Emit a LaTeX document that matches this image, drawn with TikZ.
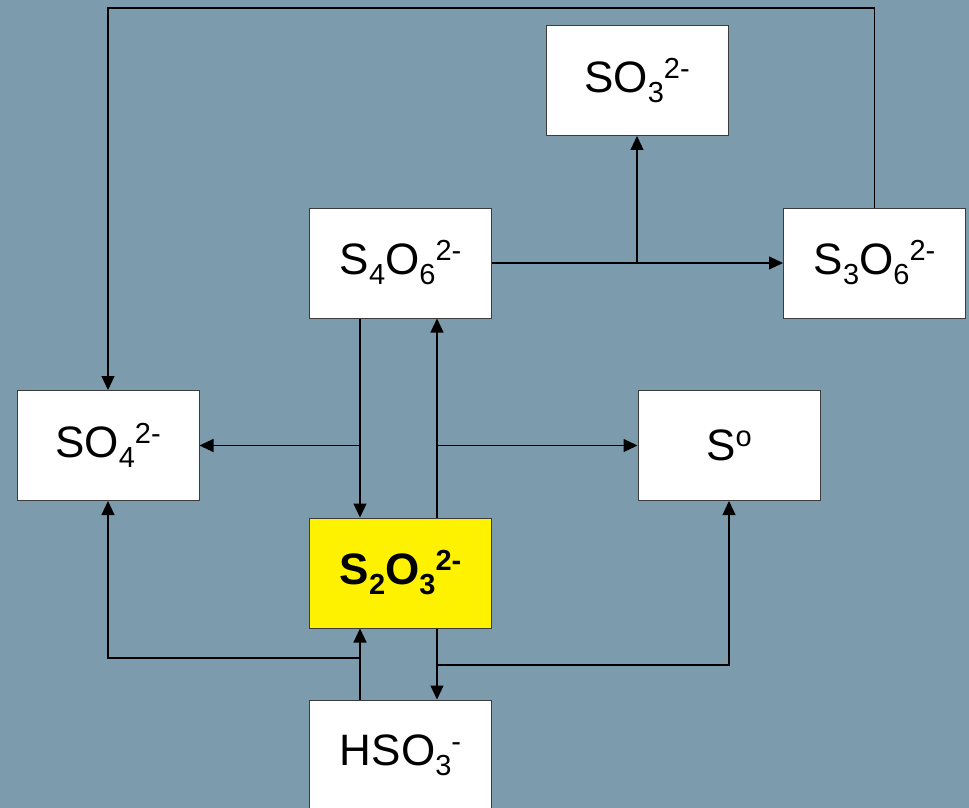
\documentclass[tikz,border=0pt]{standalone}
\usepackage{fontspec}
\setmainfont{Liberation Sans}
\usetikzlibrary{arrows.meta}

\definecolor{bgslate}{RGB}{124,155,172}
\definecolor{boxline}{RGB}{60,60,60}

% sub- and superscripts of the ion formulas
\newcommand{\ionsub}[1]{\raisebox{-5pt}{\fontsize{14.5}{15}\selectfont #1}}
\newcommand{\ionsup}[1]{\raisebox{7pt}{\fontsize{14.5}{15}\selectfont #1}}

\tikzset{
    ion/.style={draw=boxline, line width=0.5pt, fill=white, minimum width=91pt, minimum height=55pt,
        inner sep=0pt, font=\fontsize{22}{26}\selectfont},
    link/.style={-{Triangle[length=7pt,width=6.5pt]}, line width=0.55pt}
}

\begin{document}
\begin{tikzpicture}[x=0.5pt, y=-0.5pt]
    % background
    \fill[bgslate] (0,0) rectangle (969,808);
    \useasboundingbox (0,0) rectangle (969,808);
    % ions
    \node[ion] (so3) at (637,80.5) {SO\ionsub{3}\ionsup{2-}};
    \node[ion] (s4o6) at (400.5,263) {S\ionsub{4}O\ionsub{6}\ionsup{2-}};
    \node[ion] (s3o6) at (874.5,263) {S\ionsub{3}O\ionsub{6}\ionsup{2-}};
    \node[ion] (so4) at (108,445.5) {SO\ionsub{4}\ionsup{2-}};
    \node[ion] (s0) at (729,445.5) {S\ionsup{o}};
    \node[ion, fill=yellow, font=\fontsize{22}{26}\selectfont\bfseries] (s2o3) at (400.5,573)
        {S\ionsub{2}O\ionsub{3}\ionsup{2-}};
    \node[ion] (hso3) at (400.5,755) {HSO\ionsub{3}\ionsup{-}};
    % helper coordinates
    \coordinate (lx) at (360,0);
    \coordinate (rx) at (437,0);
    \coordinate (top) at (500,8);
    \coordinate (low1) at (0,658);
    \coordinate (low2) at (0,665);
    % tetrathionate -> trithionate, sulfite
    \draw[link] (s4o6.east) -- (s3o6.west);
    \draw[link] (s4o6.east -| so3.south) -- (so3.south);
    % trithionate -> sulfate
    \draw[link] (s3o6.north) -- (s3o6.north |- top) -| (so4.north);
    % tetrathionate -> thiosulfate, sulfate
    \draw[link] (s4o6.south -| lx) -- (s2o3.north -| lx);
    \draw[link] (lx |- so4.east) -- (so4.east);
    % thiosulfate -> tetrathionate, sulfur
    \draw[link] (s2o3.north -| rx) -- (s4o6.south -| rx);
    \draw[link] (rx |- s0.west) -- (s0.west);
    % bisulfite -> thiosulfate, sulfate
    \draw[link] (hso3.north -| lx) -- (s2o3.south -| lx);
    \draw[link] (lx |- low1) -| (so4.south);
    % thiosulfate -> bisulfite, sulfur
    \draw[link] (s2o3.south -| rx) -- (hso3.north -| rx);
    \draw[link] (rx |- low2) -| (s0.south);
\end{tikzpicture}
\end{document}
